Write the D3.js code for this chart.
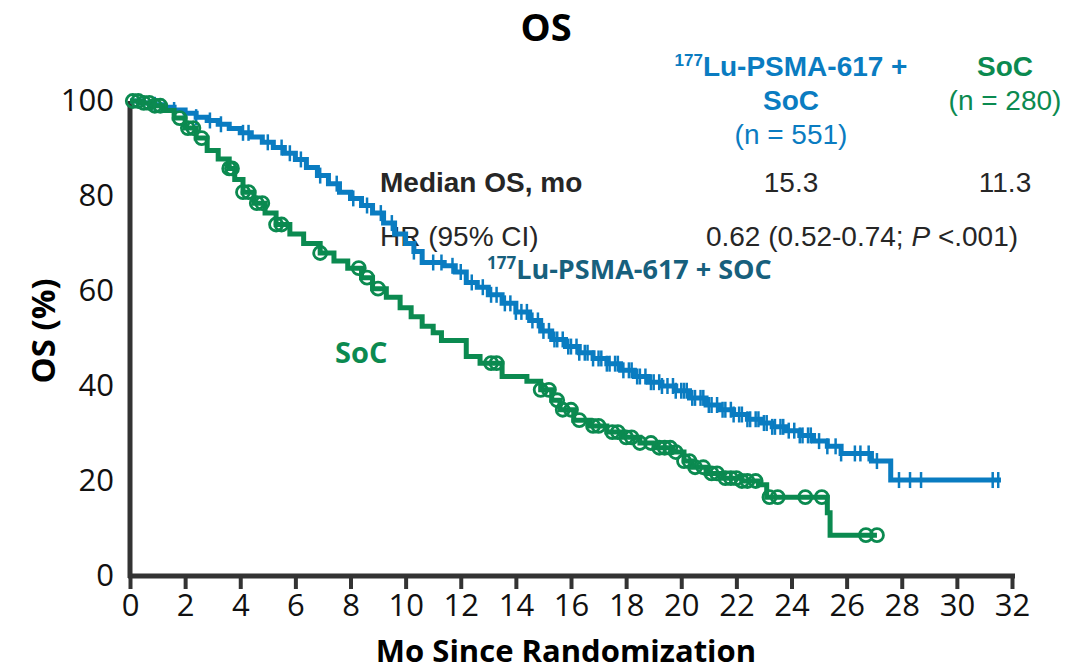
<!DOCTYPE html>
<html>
<meta charset="utf-8">
<title>OS</title>
<style>
  html, body { margin: 0; padding: 0; background: #fff; }
  svg text { font-family: "Liberation Sans", Arial, sans-serif; }
  .cal { font-family: "Open Sans", "Liberation Sans", sans-serif; }
  .axis .domain { stroke: #333; stroke-width: 5; }
  .axis line { stroke: #333; stroke-width: 4; }
  .axis text { font-family: "Open Sans", sans-serif; font-size: 31px; fill: #111; }
</style>
<body>
<div id="chart"></div>
<script src="https://d3js.org/d3.v7.min.js"></script>
<script>
// Kaplan-Meier steps (month, % surviving)
var luTime = [0, 0.4, 0.8, 1.2, 1.6, 2.0, 2.4, 2.8, 3.2, 3.6, 4.0, 4.4, 4.8, 5.2, 5.6, 6.0, 6.4, 6.8, 7.2, 7.6,
  8.0, 8.4, 8.8, 9.2, 9.6, 10.0, 10.3, 10.6, 11.4, 11.8, 12.2, 12.6, 13.0, 13.5, 14.0, 14.5, 14.9, 15.3, 15.8, 16.3,
  16.8, 17.3, 17.8, 18.3, 18.8, 19.3, 19.8, 20.3, 20.9, 21.4, 21.9, 22.4, 22.9, 23.3, 23.8, 24.3, 24.8, 25.3, 25.8,
  26.9, 27.6, 31.6];
var luSurv = [100, 99.6, 99.2, 98.7, 98.1, 97.4, 96.6, 95.9, 95.1, 94.2, 93.3, 92.4, 91.3, 90.2, 89.0, 87.7, 86.0, 84.3, 82.6, 80.8,
  79.5, 78.0, 76.4, 74.3, 72.0, 70.0, 68.3, 66.0, 65.3, 64.0, 61.8, 60.8, 59.2, 57.4, 55.6, 53.8, 51.6, 49.8, 48.3, 47.0,
  45.8, 44.7, 43.3, 42.0, 40.8, 40.0, 39.0, 37.5, 36.0, 35.0, 34.0, 33.0, 32.2, 31.4, 30.6, 29.6, 28.4, 27.3, 25.8,
  24.2, 20.2, 20.2];
var luCensor = [0.9, 1.6, 2.4, 2.9, 3.3, 4.1, 4.3, 5.0, 5.5, 5.8, 6.2, 6.9, 7.5, 8.1, 8.6, 9.1, 9.5, 10.3, 11.0, 11.3,
  11.7, 12.0, 12.4, 12.8, 13.1, 13.3, 13.6, 13.8, 14.0, 14.2, 14.4, 14.6, 14.8, 15.0, 15.2, 15.4, 15.5, 15.7, 15.9,
  16.0, 16.2, 16.3, 16.5, 16.6, 16.8, 17.0, 17.1, 17.3, 17.4, 17.6, 17.7, 17.9, 18.1, 18.2, 18.4, 18.5, 18.7, 18.9,
  19.0, 19.2, 19.3, 19.5, 19.7, 19.8, 20.0, 20.1, 20.2, 20.4, 20.5, 20.7, 20.8, 21.0, 21.1, 21.3, 21.5, 21.6, 21.8,
  21.9, 22.1, 22.2, 22.4, 22.5, 22.7, 22.8, 23.0, 23.1, 23.3, 23.4, 23.6, 23.7, 23.9, 24.1, 24.3, 24.4, 24.6, 24.7,
  25.0, 25.3, 25.6, 25.8, 26.3, 26.5, 26.8, 27.1, 27.9, 28.3, 28.7, 31.3, 31.5];

var socTime = [0, 0.4, 0.8, 1.2, 1.6, 2.0, 2.4, 2.8, 3.2, 3.6, 3.8, 4.1, 4.5, 4.9, 5.3, 5.8, 6.3, 6.9, 7.4, 7.9,
  8.4, 8.8, 9.3, 9.8, 10.2, 10.6, 11.0, 11.3, 12.2, 12.7, 13.5, 14.4, 14.9, 15.3, 15.6, 16.1, 16.7, 17.3, 17.9, 18.5,
  19.1, 19.7, 20.1, 20.4, 20.9, 21.5, 22.2, 22.8, 23.1, 25.3, 25.4, 27.1];
var socSurv = [100, 99.6, 99.0, 98.0, 96.4, 94.3, 92.2, 89.6, 87.8, 85.8, 83.5, 80.8, 78.5, 76.4, 74.0, 72.0, 70.0, 68.0, 66.3, 64.8,
  62.8, 60.5, 58.7, 56.5, 54.6, 52.6, 51.2, 49.6, 46.2, 44.8, 42.0, 41.0, 39.2, 37.0, 35.0, 32.8, 31.6, 30.3, 29.2, 28.0,
  27.0, 26.1, 24.2, 22.9, 21.6, 20.6, 20.0, 19.2, 16.6, 13.3, 8.6, 8.6];
var socCensor = [0.1, 0.3, 0.5, 0.7, 0.9, 1.1, 1.8, 2.1, 2.3, 2.6, 3.6, 3.7, 4.1, 4.3, 4.6, 4.8, 5.3, 5.5, 6.9, 8.3,
  8.6, 9.0, 13.1, 13.3, 14.9, 15.2, 15.5, 15.7, 16.0, 16.3, 16.8, 17.0, 17.5, 17.7, 18.0, 18.2, 18.5, 18.9, 19.2,
  19.4, 19.6, 19.8, 20.1, 20.3, 20.5, 20.8, 21.1, 21.3, 21.6, 21.8, 22.0, 22.2, 22.4, 22.7, 23.2, 23.5, 24.5, 25.1,
  26.7, 27.1];

var xTicks = d3.range(0, 33, 2);
var yTicks = [0, 20, 40, 60, 80, 100];

var blue = "#0a7cc1", green = "#0b8a50", ink = "#262626";

var width = 1092, height = 670;
var svg = d3.select("#chart").append("svg")
    .attr("width", width)
    .attr("height", height);

var x = d3.scaleLinear().domain([0, 32]).range([130, 1012]);
var y = d3.scaleLinear().domain([0, 100]).range([576, 101]);

// axes
var xg = svg.append("g")
    .attr("class", "axis")
    .attr("transform", "translate(0,576)")
    .call(d3.axisBottom(x).tickValues(xTicks).tickSize(13).tickSizeOuter(0).tickPadding(4));
xg.selectAll("text").attr("dy", "0.75em");
xg.select(".domain").attr("d", "M" + (x(0) - 2) + ",0H" + (x(32) + 3));

svg.append("g")
    .attr("class", "axis")
    .attr("transform", "translate(130,0)")
    .call(d3.axisLeft(y).tickValues(yTicks).tickSize(0).tickPadding(16))
    .select(".domain").attr("d", "M0," + y(100) + "V" + (y(0) + 2));

// table (drawn before the curves, the blue line runs over "HR")
var tbl = svg.append("g").style("font-size", "28px");

var h1 = tbl.append("text").attr("x", 791).attr("y", 76).attr("text-anchor", "middle")
    .attr("fill", blue).style("font-weight", "bold");
h1.append("tspan").attr("dy", "-10").style("font-size", "17px").text("177");
h1.append("tspan").attr("dy", "10").text("Lu-PSMA-617 +");
tbl.append("text").attr("x", 791).attr("y", 110).attr("text-anchor", "middle")
    .attr("fill", blue).style("font-weight", "bold").text("SoC");
tbl.append("text").attr("x", 791).attr("y", 144).attr("text-anchor", "middle")
    .attr("fill", blue).text("(n = 551)");
tbl.append("text").attr("x", 1005).attr("y", 76).attr("text-anchor", "middle")
    .attr("fill", green).style("font-weight", "bold").text("SoC");
tbl.append("text").attr("x", 1005).attr("y", 110).attr("text-anchor", "middle")
    .attr("fill", green).text("(n = 280)");

tbl.append("text").attr("x", 380).attr("y", 192).attr("fill", ink)
    .style("font-weight", "bold").text("Median OS, mo");
tbl.append("text").attr("x", 791).attr("y", 192).attr("text-anchor", "middle")
    .attr("fill", ink).text("15.3");
tbl.append("text").attr("x", 1005).attr("y", 192).attr("text-anchor", "middle")
    .attr("fill", ink).text("11.3");

tbl.append("text").attr("x", 380).attr("y", 246).attr("fill", ink).text("HR (95% CI)");
var hr = tbl.append("text").attr("x", 862).attr("y", 246).attr("text-anchor", "middle").attr("fill", ink);
hr.append("tspan").text("0.62 (0.52-0.74; ");
hr.append("tspan").style("font-style", "italic").text("P");
hr.append("tspan").text(" <.001)");

function stepAt(times, surv, t) {
    var i = d3.bisectRight(times, t) - 1;
    return surv[Math.max(0, i)];
}

var line = d3.line()
    .curve(d3.curveStepAfter)
    .x(function(d) { return x(d[0]); })
    .y(function(d) { return y(d[1]); });

// Lu-PSMA curve
svg.append("path")
    .datum(d3.zip(luTime, luSurv))
    .attr("fill", "none")
    .attr("stroke", blue)
    .attr("stroke-width", 5)
    .attr("d", line);

svg.append("g").selectAll("line")
    .data(luCensor)
    .enter().append("line")
    .attr("x1", function(d) { return x(d); })
    .attr("x2", function(d) { return x(d); })
    .attr("y1", function(d) { return y(stepAt(luTime, luSurv, d)) - 8; })
    .attr("y2", function(d) { return y(stepAt(luTime, luSurv, d)) + 8; })
    .attr("stroke", blue)
    .attr("stroke-width", 2.5);

// SoC curve
svg.append("path")
    .datum(d3.zip(socTime, socSurv))
    .attr("fill", "none")
    .attr("stroke", green)
    .attr("stroke-width", 5)
    .attr("d", line);

svg.append("g").selectAll("circle")
    .data(socCensor)
    .enter().append("circle")
    .attr("cx", function(d) { return x(d); })
    .attr("cy", function(d) { return y(stepAt(socTime, socSurv, d)); })
    .attr("r", 6.5)
    .attr("fill", "none")
    .attr("stroke", green)
    .attr("stroke-width", 2.8);

// titles
svg.append("text").attr("class", "cal")
    .attr("x", 546).attr("y", 41)
    .attr("text-anchor", "middle")
    .style("font-size", "38px").style("font-weight", "bold")
    .text("OS");

svg.append("text").attr("class", "cal")
    .attr("transform", "translate(55,331) rotate(-90)")
    .attr("text-anchor", "middle")
    .style("font-size", "33px").style("font-weight", "bold")
    .text("OS (%)");

svg.append("text").attr("class", "cal")
    .attr("x", 566).attr("y", 662)
    .attr("text-anchor", "middle")
    .style("font-size", "31px").style("font-weight", "bold")
    .text("Mo Since Randomization");

// curve labels
var lab = svg.append("text").attr("class", "cal")
    .attr("x", 487).attr("y", 279)
    .attr("fill", "#17607d").style("font-size", "27px").style("font-weight", "bold");
lab.append("tspan").attr("dy", "-10").style("font-size", "17px").text("177");
lab.append("tspan").attr("dy", "10").text("Lu-PSMA-617 + SOC");

svg.append("text").attr("class", "cal")
    .attr("x", 335).attr("y", 363)
    .attr("fill", green).style("font-size", "29px").style("font-weight", "bold")
    .text("SoC");
</script>
</body>
</html>
